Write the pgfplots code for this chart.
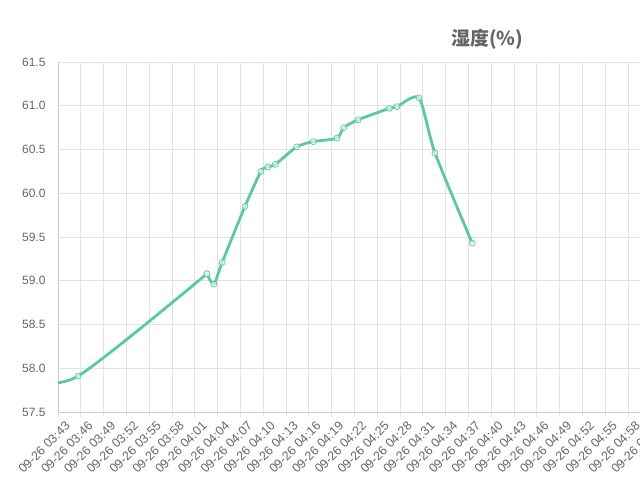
\documentclass[border=0pt]{standalone}
\usepackage{fontspec}
\setmainfont{Liberation Sans}
\newfontfamily\cjk{Noto Sans CJK SC}
\usepackage{pgfplots}
\pgfplotsset{compat=1.18}
\definecolor{linec}{HTML}{5CC8A0}
\definecolor{gridc}{HTML}{E3E3E3}
\definecolor{axc}{HTML}{CCCCCC}
\definecolor{txt}{HTML}{666666}
\begin{document}
\begin{tikzpicture}
\begin{axis}[
  scale only axis, width=596.6pt, height=350pt,
  xmin=0, xmax=78.5, ymin=57.5, ymax=61.5,
  axis x line*=bottom, axis y line*=left,
  axis line style={axc, line width=0.8pt},
  grid=major, major grid style={gridc, line width=0.8pt},
  xtick={0,3,...,78},
  xticklabels={09-26 03:43,09-26 03:46,09-26 03:49,09-26 03:52,09-26 03:55,09-26 03:58,09-26 04:01,09-26 04:04,09-26 04:07,09-26 04:10,09-26 04:13,09-26 04:16,09-26 04:19,09-26 04:22,09-26 04:25,09-26 04:28,09-26 04:31,09-26 04:34,09-26 04:37,09-26 04:40,09-26 04:43,09-26 04:46,09-26 04:49,09-26 04:52,09-26 04:55,09-26 04:58,09-26 05:01},
  ytick={57.5,58,...,61.5},
  tick align=outside, major tick length=5pt,
  xtick style={draw=gridc, line width=0.8pt},
  ytick style={draw=none},
  xticklabel style={rotate=45, anchor=east, font=\fontsize{12.5}{13}\selectfont, text=txt, xshift=5.6pt, yshift=-11.6pt},
  yticklabel style={font=\fontsize{12}{13}\selectfont, text=txt, xshift=-4pt, /pgf/number format/.cd, fixed, fixed zerofill, precision=1, assume math mode=true},
]
\addplot[linec, line width=2.8pt, smooth, tension=0.45,
  mark=*, mark size=3pt, mark options={fill=white, draw=linec, line width=0.7pt, fill opacity=0.6}]
  coordinates {
  (-4,57.865) (2.63,57.91) (19.6,59.08)
  };
\addplot[linec, line width=2.8pt, smooth, tension=0.4,
  mark=*, mark size=3pt, mark options={fill=white, draw=linec, line width=0.7pt, fill opacity=0.6}]
  coordinates {
  (19.6,59.08) (20.5,58.96) (21.6,59.21) (24.6,59.85)
  (26.7,60.25) (27.6,60.30) (28.6,60.33) (31.4,60.53) (33.6,60.59) (36.7,60.63)
  (37.6,60.75) (39.5,60.84) (43.6,60.97) (44.6,60.99) (47.5,61.09) (49.6,60.46)
  (54.5,59.43)
  };
\end{axis}
\node[font=\cjk\bfseries\fontsize{19}{21}\selectfont, text=txt] at ([shift={(429pt,373pt)}]current axis.south west) {湿度(\%)};
\pgfresetboundingbox
\path[use as bounding box] ([shift={(-58pt,-68pt)}]current axis.south west) rectangle ([shift={(582pt,412pt)}]current axis.south west);
\end{tikzpicture}
\end{document}
